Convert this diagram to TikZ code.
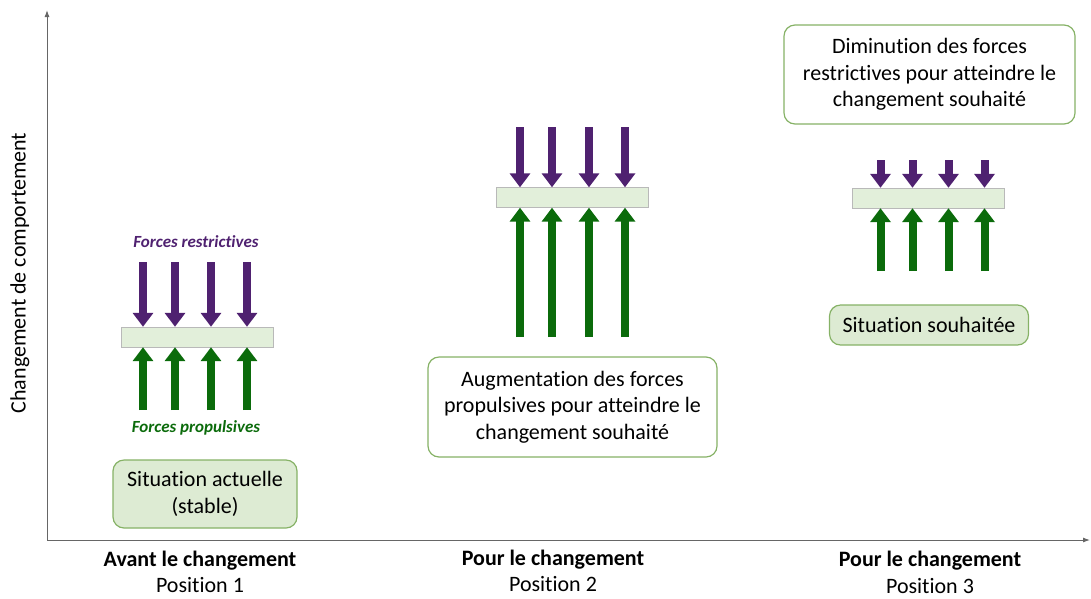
\documentclass[tikz,border=0pt]{standalone}
\usepackage{fontspec}
\setmainfont{Carlito}[Ligatures=NoCommon]
\usetikzlibrary{arrows.meta}

\definecolor{restrcol}{HTML}{4F2170}
\definecolor{propcol}{HTML}{0B6B0B}
\definecolor{barfill}{HTML}{E2EFDA}
\definecolor{boxfill}{HTML}{DDEBD3}
\definecolor{boxline}{HTML}{86B266}

\tikzset{
  txt/.style={font=\fontsize{22}{26.5}\selectfont, align=center},
  forcebar/.style={draw=gray!55, fill=barfill, minimum width=152pt, minimum height=20pt, inner sep=0pt},
  force/.style={line width=8pt, -{Triangle[width=20pt,length=14pt]}},
  restr/.style={force, draw=restrcol},
  prop/.style={force, draw=propcol},
  sitbox/.style={txt, draw=boxline, line width=1.2pt, fill=boxfill, rounded corners=11pt, inner sep=0pt},
  goalbox/.style={sitbox, fill=white},
  forcelabel/.style={font=\fontsize{17}{19}\selectfont\bfseries\itshape},
}

\begin{document}
\begin{tikzpicture}[x=1pt, y=-1pt]
  \useasboundingbox (0,0) rectangle (1091,598);

  % axes
  \coordinate (origin) at (47,540);
  \coordinate (ytop) at (47,10);
  \coordinate (xend) at (1090,540);
  \draw [gray!80!black, line width=1pt, -{Latex[length=7pt,width=5pt]}] (origin) -- (ytop);
  \draw [gray!80!black, line width=1pt, -{Latex[length=7pt,width=5pt]}] (origin) -- (xend);
  \node (ylabel) [txt, rotate=90] at (20,273) {Changement de comportement};

  % bottom labels
  \node (pos1) [txt] at (200,572) {\textbf{Avant le changement}\\Position 1};
  \node (pos2) [txt] at (553,571) {\textbf{Pour le changement}\\Position 2};
  \node (pos3) [txt] at (930,572.5) {\textbf{Pour le changement}\\Position 3};

  % position 1
  \node (bar1) [forcebar] at (197,337) {};
  \foreach \dx [count=\i] in {-54,-22,14,50} {
    \coordinate (r1\i) at ([xshift=\dx pt] bar1.center |- 0,262);
    \coordinate (p1\i) at ([xshift=\dx pt] bar1.center |- 0,410);
    \draw [restr] (r1\i) -- (r1\i |- bar1.north);
    \draw [prop] (p1\i) -- (p1\i |- bar1.south);
  }
  \node (restrlabel) [forcelabel, text=restrcol] at (196,242) {Forces restrictives};
  \node (proplabel) [forcelabel, text=propcol] at (196,428) {Forces propulsives};
  \node (now) [sitbox, minimum width=184pt, minimum height=68pt] at (205,494) {Situation actuelle\\(stable)};

  % position 2
  \node (bar2) [forcebar] at (572,197.5) {};
  \foreach \dx [count=\i] in {-52,-20,17,53} {
    \coordinate (r2\i) at ([xshift=\dx pt] bar2.center |- 0,127);
    \coordinate (p2\i) at ([xshift=\dx pt] bar2.center |- 0,337);
    \draw [restr] (r2\i) -- (r2\i |- bar2.north);
    \draw [prop] (p2\i) -- (p2\i |- bar2.south);
  }
  \node (increase) [goalbox, minimum width=289pt, minimum height=100pt] at (572.5,407) {Augmentation des forces\\propulsives pour atteindre le\\changement souhaité};

  % position 3
  \node (bar3) [forcebar] at (928.5,198) {};
  \foreach \dx [count=\i] in {-48,-16,20,56} {
    \coordinate (r3\i) at ([xshift=\dx pt] bar3.center |- 0,160);
    \coordinate (p3\i) at ([xshift=\dx pt] bar3.center |- 0,271);
    \draw [restr] (r3\i) -- (r3\i |- bar3.north);
    \draw [prop] (p3\i) -- (p3\i |- bar3.south);
  }
  \node (wanted) [sitbox, minimum width=199pt, minimum height=40pt] at (929,325) {Situation souhaitée};
  \node (decrease) [goalbox, minimum width=291pt, minimum height=99pt] at (929.5,74.5) {Diminution des forces\\restrictives pour atteindre le\\changement souhaité};
\end{tikzpicture}
\end{document}
